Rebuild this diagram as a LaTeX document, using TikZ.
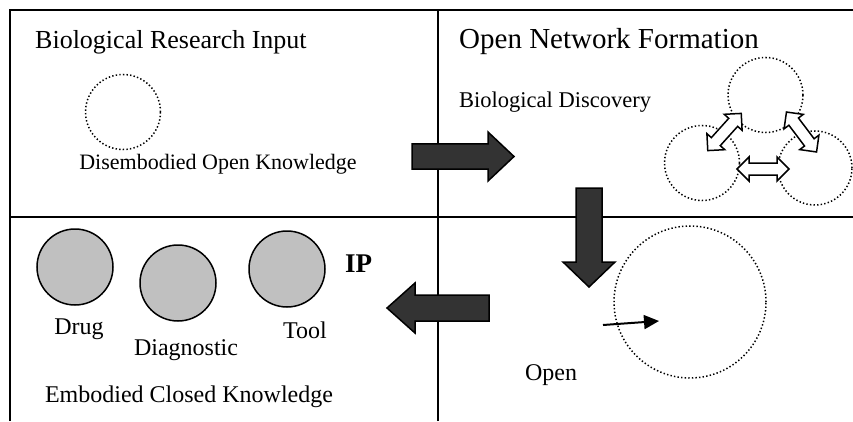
\documentclass[tikz,border=0pt]{standalone}
\usepackage{fontspec}
\setmainfont{Liberation Serif}
\usetikzlibrary{arrows.meta}
\definecolor{blockfill}{HTML}{333333}
\definecolor{grayfill}{HTML}{C0C0C0}
\begin{document}
\begin{tikzpicture}[x=1pt,y=1pt,
  frame/.style={line width=1.8pt},
  title/.style={font=\fontsize{26}{30}\selectfont, inner sep=0, anchor=base west},
  lbl/.style={font=\fontsize{24}{28}\selectfont, inner sep=0, anchor=base},
  dotcirc/.style={circle, draw, line width=1.5pt, dash pattern=on 1.4pt off 2.2pt, minimum size=#1, inner sep=0},
  graycirc/.style={circle, draw, line width=1.5pt, fill=grayfill, minimum size=#1, inner sep=0},
  block/.style={draw, line width=1.5pt, fill=blockfill, line join=miter},
  dblarrow/.pic={\draw[line width=1.5pt, fill=white, line join=miter] (-#1,0) -- (-#1+12,12) -- (-#1+12,6) -- (#1-12,6) -- (#1-12,12) -- (#1,0) -- (#1-12,-12) -- (#1-12,-6) -- (-#1+12,-6) -- (-#1+12,-12) -- cycle;}
]
\useasboundingbox (0,0) rectangle (853,421);
% frame
\draw[frame] (10,0) -- (10,411) -- (853,411);
\draw[frame] (438,0) -- (438,411);
\draw[frame] (10,204) -- (853,204);

% top-left panel
\node[title] (t1) at (35,372) {Biological Research Input};
\node[dotcirc=75pt] (c0) at (123,309) {};
\node[lbl, font=\fontsize{22}{26}\selectfont] (dok) at (218,252) {Disembodied Open Knowledge};

% top-right panel
\node[title, font=\fontsize{29}{33}\selectfont] (t2) at (459,372) {Open Network Formation};
\node[lbl, font=\fontsize{22.5}{26}\selectfont, anchor=base west] (bd) at (459,313) {Biological Discovery};
\node[dotcirc=75pt] (ctop) at (765.5,326) {};
\node[dotcirc=75pt] (cleft) at (702,258) {};
\node[dotcirc=74pt] (cright) at (815,253) {};
\pic[rotate=48] (da1) at (724.5,289) {dblarrow=25};
\pic[rotate=-53] (da2) at (801.5,289) {dblarrow=25};
\pic (da3) at (763,252) {dblarrow=26};

% block arrows
\draw[block] (412,277) -- (488,277) -- (488,289) -- (514,264.5) -- (488,240) -- (488,252) -- (412,252) -- cycle;
\draw[block] (576,233) -- (602,233) -- (602,159) -- (615,159) -- (589,134) -- (563,159) -- (576,159) -- cycle;
\draw[block] (489,126) -- (415,126) -- (415,138) -- (387,113) -- (415,88) -- (415,100) -- (489,100) -- cycle;

% bottom-right panel
\node[dotcirc=152pt] (cbig) at (690,119) {};
\coordinate (sa) at (603,96);
\coordinate (sb) at (659,100);
\draw[line width=2pt, -{Triangle[length=15pt,width=14pt]}] (sa) -- (sb);
\node[lbl] (open) at (551,41) {Open};

% bottom-left panel
\node[graycirc=76pt] (drug) at (75,154) {};
\node[graycirc=76pt] (diag) at (178,138) {};
\node[graycirc=76pt] (tool) at (287,152) {};
\node[lbl] (ldrug) at (79,87) {Drug};
\node[lbl] (ldiag) at (186,66) {Diagnostic};
\node[lbl] (ltool) at (305,83) {Tool};
\node[font=\fontsize{27}{30}\selectfont\bfseries, inner sep=0, anchor=base west] (ip) at (345,149) {IP};
\node[lbl] (eck) at (189,19) {Embodied Closed Knowledge};
\end{tikzpicture}
\end{document}
